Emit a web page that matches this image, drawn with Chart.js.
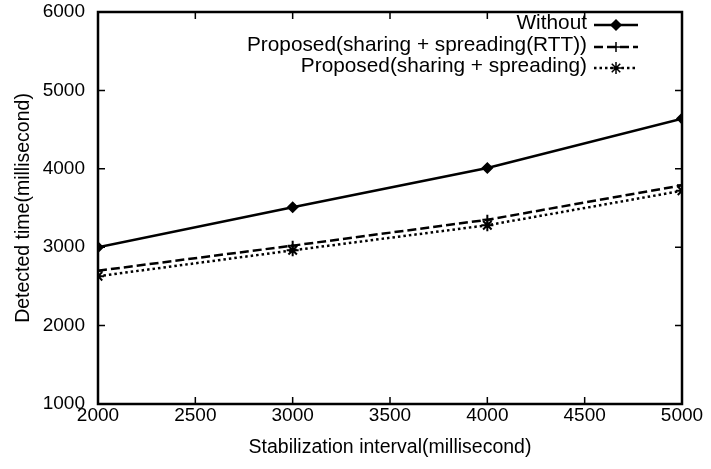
<!DOCTYPE html>
<html>
<head>
<meta charset="utf-8">
<script src="https://cdn.jsdelivr.net/npm/chart.js@4.4.0/dist/chart.umd.min.js"></script>
<style>
html,body{margin:0;padding:0;background:#fff;}
#wrap{width:711px;height:469px;}
</style>
</head>
<body>
<div id="wrap"><canvas id="c" width="711" height="469"></canvas></div>
<script>
const intervals = [2000, 3000, 4000, 5000];
const withoutVals = [3000, 3510, 4010, 4640];
const rttVals = [2700, 3020, 3350, 3790];
const spreadVals = [2630, 2960, 3280, 3720];
const seriesNames = ['Without', 'Proposed(sharing + spreading(RTT))', 'Proposed(sharing + spreading)'];
const xTicks = [2000, 2500, 3000, 3500, 4000, 4500, 5000];
const yTicks = [1000, 2000, 3000, 4000, 5000, 6000];
const xTitle = 'Stabilization interval(millisecond)';
const yTitle = 'Detected time(millisecond)';

const FONT = 'Liberation Sans, Arial, Helvetica, sans-serif';
const FS = 19.5;
const TFS = 19;
const LFS = 20.8;

function pts(vals){ return intervals.map((x,i)=>({x:x,y:vals[i]})); }

const frame = {
  id:'frame',
  afterDatasetsDraw(chart){
    const {ctx, chartArea:a, scales} = chart;
    ctx.save();
    ctx.strokeStyle='#000';
    ctx.lineWidth=2.5;
    ctx.strokeRect(a.left, a.top, a.right-a.left, a.bottom-a.top);
    ctx.lineWidth=1.5;
    const tl=7;
    xTicks.forEach(v=>{
      const px=scales.x.getPixelForValue(v);
      ctx.beginPath();
      ctx.moveTo(px,a.bottom);ctx.lineTo(px,a.bottom-tl);
      ctx.moveTo(px,a.top);ctx.lineTo(px,a.top+tl);
      ctx.stroke();
    });
    yTicks.forEach(v=>{
      const py=scales.y.getPixelForValue(v);
      ctx.beginPath();
      ctx.moveTo(a.left,py);ctx.lineTo(a.left+tl,py);
      ctx.moveTo(a.right,py);ctx.lineTo(a.right-tl,py);
      ctx.stroke();
    });
    // legend
    ctx.font=LFS+'px '+FONT;
    ctx.fillStyle='#000';
    ctx.textAlign='right';
    ctx.textBaseline='middle';
    const rows=[23,45,66];
    chart.data.datasets.forEach((ds,i)=>{
      const y=rows[i];
      ctx.fillText(ds.label, 587, y);
      ctx.save();
      ctx.lineWidth=ds.borderWidth;
      ctx.setLineDash(ds.borderDash||[]);
      ctx.beginPath();ctx.moveTo(594,y+2);ctx.lineTo(638,y+2);ctx.stroke();
      ctx.restore();
      Chart.helpers.drawPoint(ctx,{pointStyle:ds.pointStyle,radius:ds.pointRadius,borderWidth:ds.pointBorderWidth||1.5,rotation:0},616,y+2);
    });
    ctx.restore();
  }
};

new Chart(document.getElementById('c'),{
  type:'line',
  data:{
    datasets:[
      {label:seriesNames[0],data:pts(withoutVals),borderColor:'#000',backgroundColor:'#000',borderWidth:2.5,pointStyle:'rectRot',pointRadius:5,pointBorderWidth:1.5,fill:false},
      {label:seriesNames[1],data:pts(rttVals),borderColor:'#000',backgroundColor:'#000',borderWidth:2.5,borderDash:[9,4],pointStyle:'cross',pointRadius:5,pointBorderWidth:2,fill:false},
      {label:seriesNames[2],data:pts(spreadVals),borderColor:'#000',backgroundColor:'rgba(0,0,0,0)',borderWidth:2.5,borderDash:[2.5,3],pointStyle:'star',pointRadius:6,pointBorderWidth:2,fill:false}
    ]
  },
  options:{
    responsive:false,
    animation:false,
    events:[],
    layout:{padding:{top:12,right:29,left:0,bottom:0}},
    plugins:{legend:{display:false},tooltip:{enabled:false}},
    scales:{
      x:{type:'linear',min:2000,max:5000,
        afterBuildTicks(s){s.ticks=xTicks.map(v=>({value:v}));},
        afterFit(s){s.height=65;s.paddingRight=0;},
        grid:{display:false,drawTicks:false},border:{display:false},
        ticks:{color:'#000',font:{family:FONT,size:TFS},padding:0,maxRotation:0,autoSkip:false,callback:v=>String(v)},
        title:{display:true,text:xTitle,color:'#000',font:{family:FONT,size:FS},padding:{top:0,bottom:10}}
      },
      y:{type:'linear',min:1000,max:6000,
        afterBuildTicks(s){s.ticks=yTicks.map(v=>({value:v}));},
        afterFit(s){s.width=98;s.paddingTop=0;s.paddingBottom=0;},
        grid:{display:false,drawTicks:false},border:{display:false},
        ticks:{color:'#000',font:{family:FONT,size:TFS},padding:13,autoSkip:false,callback:v=>String(v)},
        title:{display:true,text:yTitle,color:'#000',font:{family:FONT,size:FS},padding:{top:12,bottom:0}}
      }
    }
  },
  plugins:[frame]
});
</script>
</body>
</html>
